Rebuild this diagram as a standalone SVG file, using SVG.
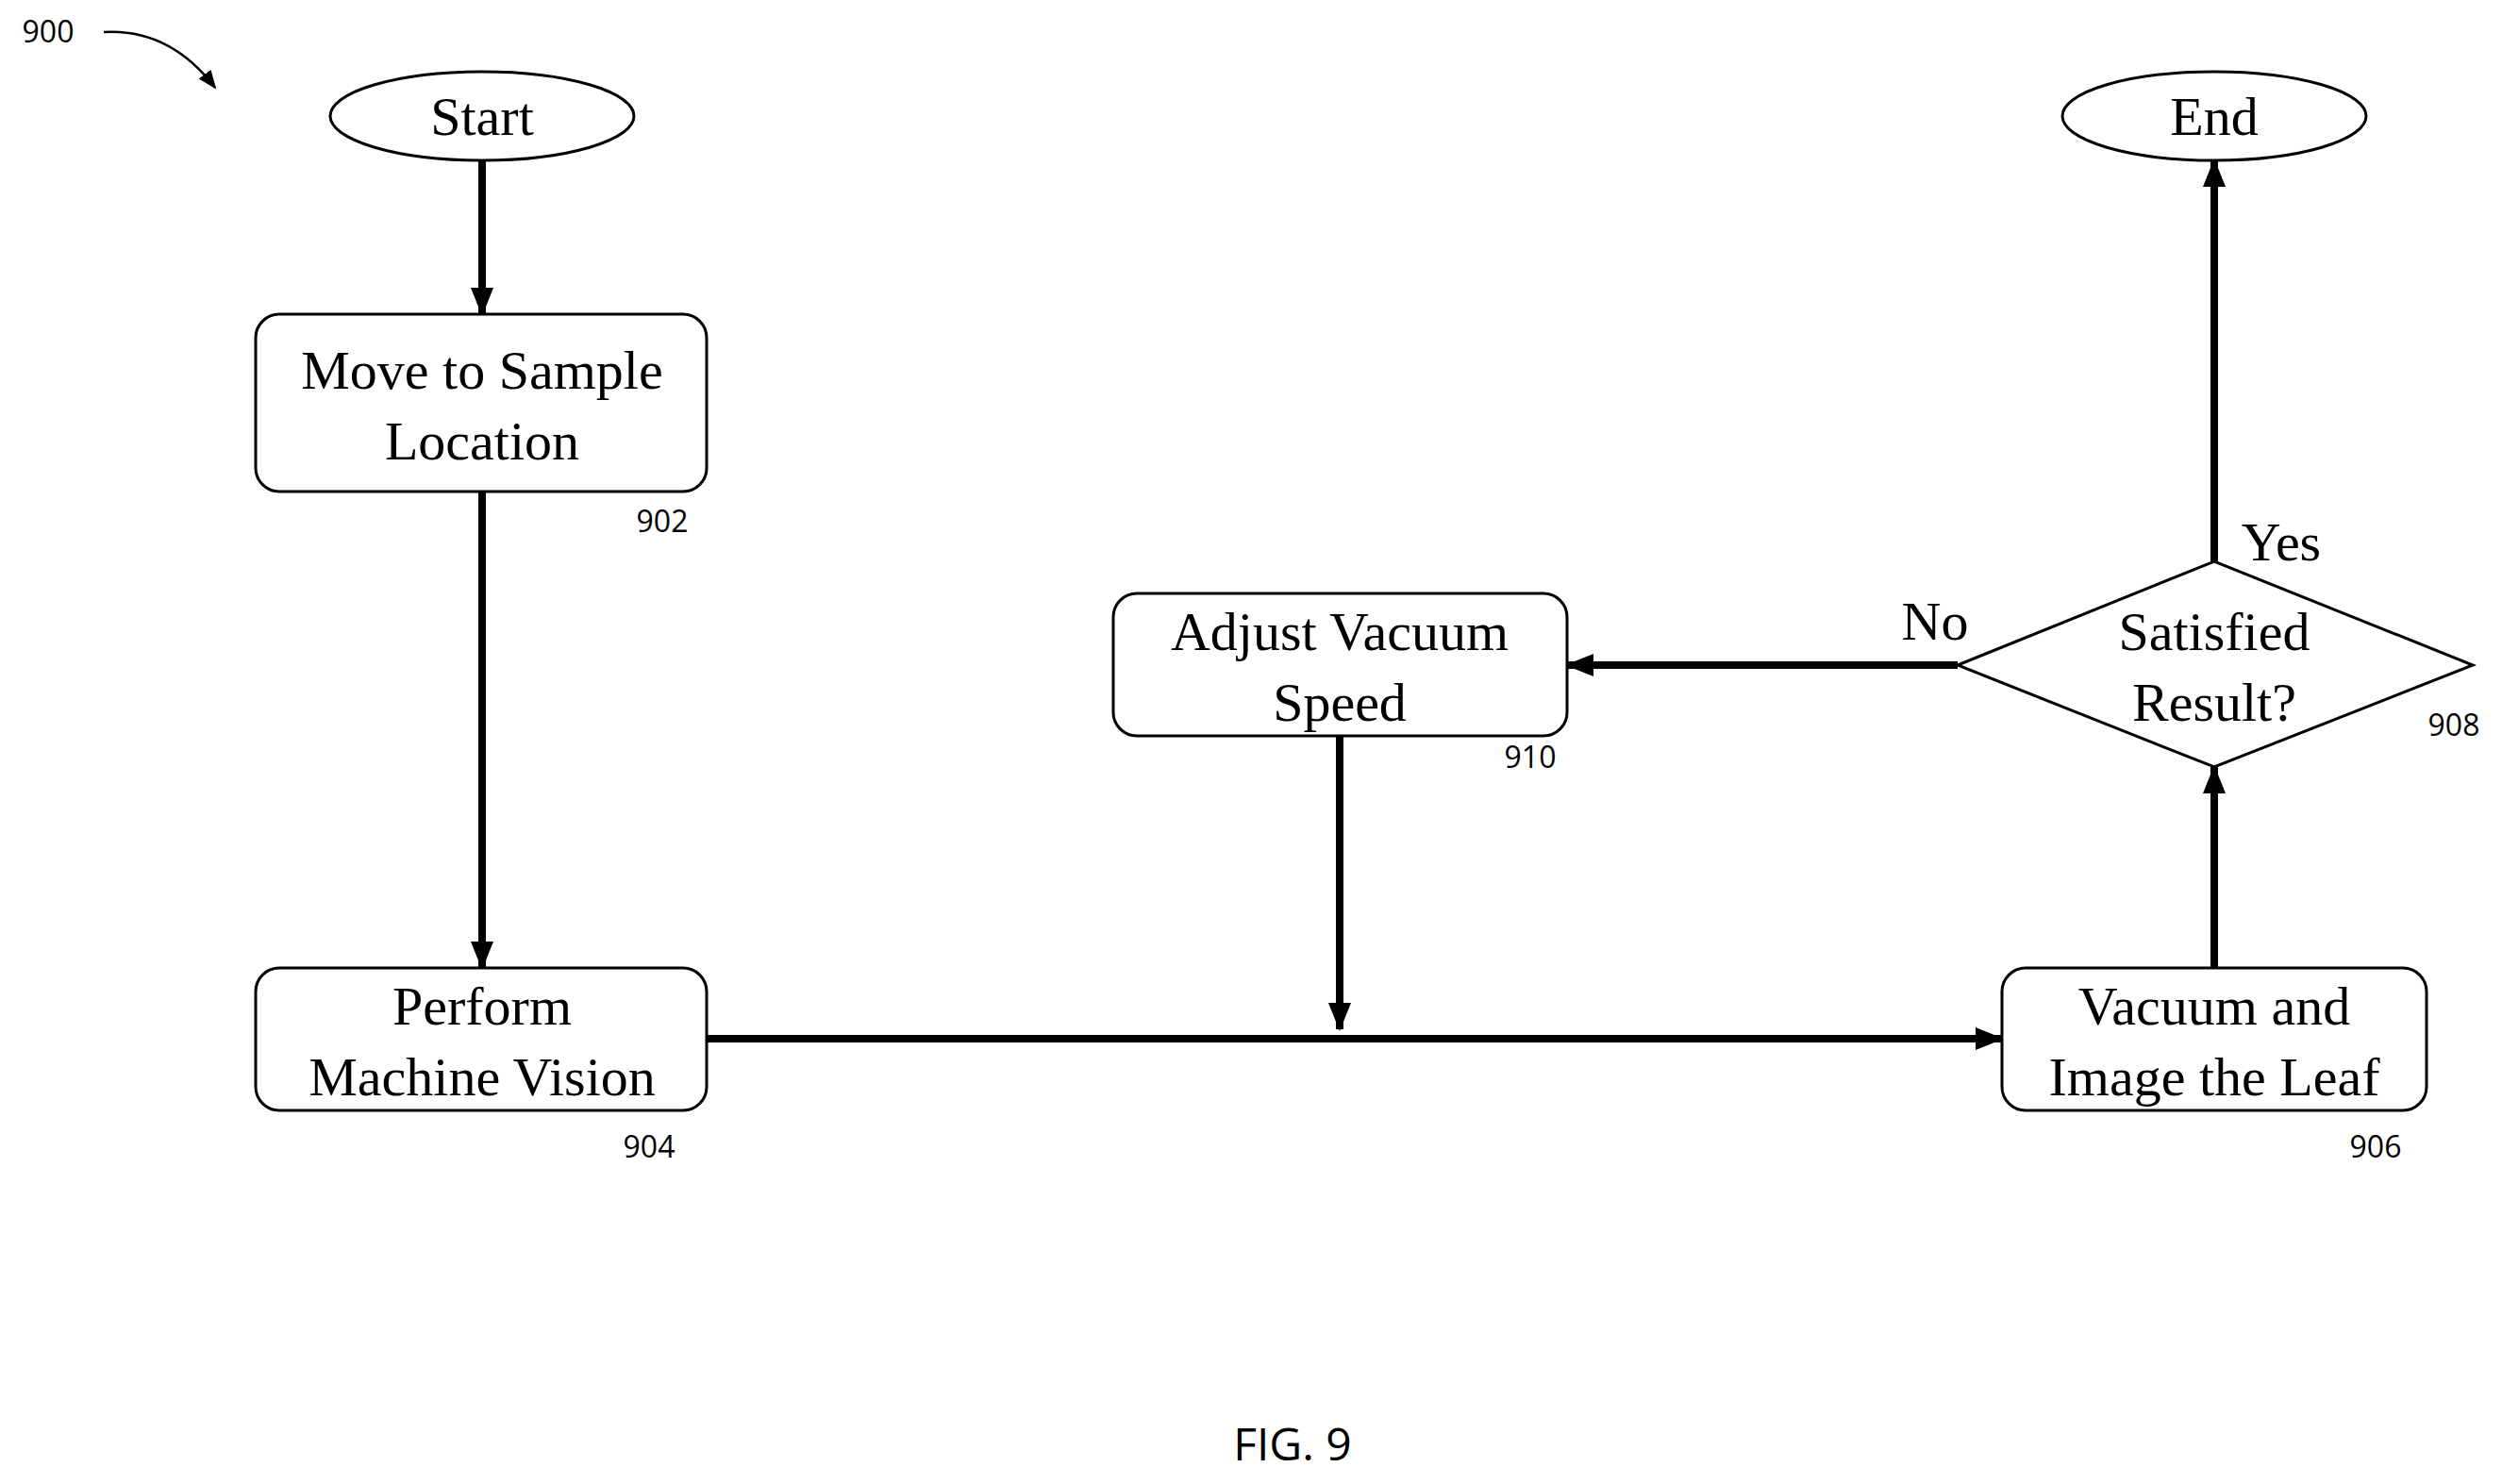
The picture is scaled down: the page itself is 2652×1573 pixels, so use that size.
<svg xmlns="http://www.w3.org/2000/svg" width="2652" height="1573" viewBox="0 0 2652 1573">
<style>
.n{fill:#fff;stroke:#000;stroke-width:3}
.t{font-family:"Liberation Serif",serif;font-size:58px;text-anchor:middle;fill:#000}
.r{font-family:"Open Sans",sans-serif;font-size:32px;text-anchor:middle;fill:#000}
.c{stroke:#000;stroke-width:8;fill:none;marker-end:url(#a)}
</style>
<defs><marker id="a" markerUnits="userSpaceOnUse" markerWidth="30" markerHeight="30" refX="28" refY="15" orient="auto"><path d="M0,3 L30,15 L0,27 Z" fill="#000"/></marker>
<marker id="s" markerUnits="userSpaceOnUse" markerWidth="20" markerHeight="20" refX="18" refY="10" orient="auto"><path d="M0,2 L20,10 L0,18 Z" fill="#000"/></marker></defs>
<rect width="2652" height="1573" fill="#fff"/>
<g id="connectors">
<line class="c" x1="511" y1="170" x2="511" y2="333"/>
<line class="c" x1="511" y1="521" x2="511" y2="1026"/>
<line class="c" x1="749" y1="1101" x2="2122" y2="1101"/>
<line class="c" x1="1420" y1="780" x2="1420" y2="1091"/>
<line class="c" x1="2347" y1="1026" x2="2347" y2="813"/>
<line class="c" x1="2347" y1="595" x2="2347" y2="170"/>
<line class="c" x1="2075" y1="705" x2="1661" y2="705"/>
<path d="M110,34 Q180,30 228,93" stroke="#000" stroke-width="2.5" fill="none" marker-end="url(#s)"/>
<text class="t" x="2418" y="594">Yes</text>
<text class="t" x="2051" y="678">No</text>
</g>
<g id="start"><ellipse class="n" cx="511" cy="123" rx="161" ry="47"/><text class="t" x="511" y="143">Start</text></g>
<g id="n902"><rect class="n" x="271" y="333" width="478" height="188" rx="25"/><text class="t" x="511" y="412">Move to Sample</text><text class="t" x="511" y="487">Location</text><text class="r" x="702" y="564">902</text></g>
<g id="n904"><rect class="n" x="271" y="1026" width="478" height="151" rx="25"/><text class="t" x="511" y="1086">Perform</text><text class="t" x="511" y="1161">Machine Vision</text><text class="r" x="688" y="1227">904</text></g>
<g id="n906"><rect class="n" x="2122" y="1026" width="450" height="151" rx="25"/><text class="t" x="2347" y="1086">Vacuum and</text><text class="t" x="2347" y="1161">Image the Leaf</text><text class="r" x="2518" y="1227">906</text></g>
<g id="n910"><rect class="n" x="1180" y="629" width="481" height="151" rx="25"/><text class="t" x="1420" y="689">Adjust Vacuum</text><text class="t" x="1420" y="764">Speed</text><text class="r" x="1622" y="814">910</text></g>
<g id="n908"><polygon class="n" points="2075,705 2347,595 2621,705 2347,813"/><text class="t" x="2347" y="689">Satisfied</text><text class="t" x="2347" y="764">Result?</text><text class="r" x="2601" y="780">908</text></g>
<g id="end"><ellipse class="n" cx="2347" cy="123" rx="161" ry="47"/><text class="t" x="2347" y="143">End</text></g>
<text class="r" x="51" y="45">900</text>
<text class="r" x="1370" y="1548" style="font-size:48px">FIG. 9</text>
</svg>
